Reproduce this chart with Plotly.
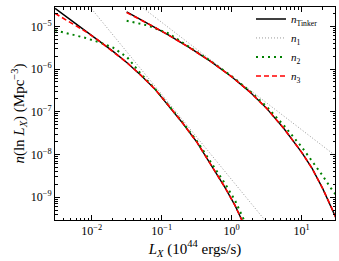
import plotly.graph_objects as go

# ---- data ----
# low-luminosity set
L_a = [0.003, 0.005, 0.008, 0.0125, 0.02, 0.032, 0.05, 0.08, 0.125, 0.2, 0.32, 0.5, 0.8, 1.12, 1.41, 1.6]
tinker_a = [2.63e-5, 1.41e-5, 8.13e-6, 4.68e-6, 2.63e-6, 1.41e-6, 7.24e-7, 3.39e-7, 1.41e-7,
            5.37e-8, 1.91e-8, 6.03e-9, 1.70e-9, 6.31e-10, 2.82e-10, 1.8e-10]
n3_a = [2.0e-5, 1.2e-5, 7.76e-6, 4.68e-6, 2.63e-6, 1.41e-6, 7.24e-7, 3.39e-7, 1.41e-7,
        5.37e-8, 1.91e-8, 6.03e-9, 1.70e-9, 6.31e-10, 2.82e-10, 1.8e-10]
n2_a = [8.1e-6, 6.6e-6, 5.4e-6, 4.3e-6, 3.2e-6, 1.9e-6, 7.9e-7, 3.47e-7, 1.45e-7,
        5.6e-8, 2.04e-8, 6.8e-9, 2.1e-9, 8.3e-10, 3.6e-10, 2.3e-10]
L_n1_a = [0.0025, 3.16]
n1_a = [4.07e-4, 2.57e-10]

# high-luminosity set
L_b = [0.0316, 0.063, 0.126, 0.25, 0.5, 1.0, 1.78, 3.16, 5.6, 10.0, 14.1, 20.0, 26.3, 31.6]
tinker_b = [2.19e-5, 1.17e-5, 6.2e-6, 3.16e-6, 1.51e-6, 6.6e-7, 3.0e-7, 1.2e-7, 4.0e-8,
            1.12e-8, 4.7e-9, 1.58e-9, 6.0e-10, 3.0e-10]
n3_b = [2.1e-5, 1.17e-5, 6.2e-6, 3.16e-6, 1.51e-6, 6.6e-7, 3.0e-7, 1.2e-7, 4.0e-8,
        1.12e-8, 4.7e-9, 1.58e-9, 6.0e-10, 3.0e-10]
n2_b = [1.35e-5, 1.05e-5, 6.8e-6, 3.3e-6, 1.55e-6, 6.8e-7, 3.16e-7, 1.32e-7, 4.7e-8,
        1.5e-8, 7.1e-9, 3.16e-9, 1.6e-9, 1.07e-9]
L_n1_b = [0.0316, 40.0]
n1_b = [5.3e-5, 6.6e-9]

x_tickvals = [0.01, 0.1, 1, 10]
x_ticktext = ["10<sup>−2</sup>", "10<sup>−1</sup>", "10<sup>0</sup>", "10<sup>1</sup>"]
y_tickvals = [1e-9, 1e-8, 1e-7, 1e-6, 1e-5]
y_ticktext = ["10<sup>−9</sup>", "10<sup>−8</sup>", "10<sup>−7</sup>", "10<sup>−6</sup>", "10<sup>−5</sup>"]

FONT = "Liberation Serif"

fig = go.Figure()

def add(x, y, name, color, dash, width, show):
    fig.add_trace(go.Scatter(x=x, y=y, mode="lines", name=name, legendgroup=name,
                             showlegend=show, hoverinfo="skip",
                             line=dict(color=color, dash=dash, width=width)))

add(L_a, tinker_a, "<i>n</i><sub>Tinker</sub>", "black", "solid", 1.4, True)
add(L_n1_a, n1_a, "<i>n</i><sub>1</sub>", "#999999", "1px,2px", 1.0, True)
add(L_a, n2_a, "<i>n</i><sub>2</sub>", "green", "2px,4px", 2.0, True)
add(L_a, n3_a, "<i>n</i><sub>3</sub>", "red", "5px,3px", 1.6, True)
add(L_b, tinker_b, "<i>n</i><sub>Tinker</sub>", "black", "solid", 1.4, False)
add(L_n1_b, n1_b, "<i>n</i><sub>1</sub>", "#999999", "1px,2px", 1.0, False)
add(L_b, n2_b, "<i>n</i><sub>2</sub>", "green", "2px,4px", 2.0, False)
add(L_b, n3_b, "<i>n</i><sub>3</sub>", "red", "5px,3px", 1.6, False)

minor_x = [m * 10 ** e for e in range(-3, 2) for m in range(2, 10)]
minor_y = [m * 10 ** e for e in range(-10, -4) for m in range(2, 10)]

axis_common = dict(showline=True, linecolor="black", linewidth=1, mirror="ticks",
                   ticks="inside", ticklen=5, tickcolor="black", showgrid=False,
                   zeroline=False, automargin=False,
                   tickfont=dict(family=FONT, size=12, color="black"))

fig.update_layout(
    template="none",
    width=339, height=261,
    margin=dict(l=55, r=4, t=5, b=41),
    paper_bgcolor="white", plot_bgcolor="white",
    font=dict(family=FONT, color="black"),
    xaxis=dict(type="log", range=[-2.524, 1.476], tickmode="array",
               tickvals=x_tickvals, ticktext=x_ticktext,
               minor=dict(tickmode="array", tickvals=minor_x, ticks="inside", ticklen=2.5,
                          tickcolor="black", showgrid=False),
               title=dict(text="<i>L<sub>X</sub></i> (10<sup>44</sup> ergs/s)",
                          font=dict(family=FONT, size=15), standoff=0),
               **axis_common),
    yaxis=dict(type="log", range=[-9.535, -4.547], tickmode="array",
               tickvals=y_tickvals, ticktext=y_ticktext,
               minor=dict(tickmode="array", tickvals=minor_y, ticks="inside", ticklen=2.5,
                          tickcolor="black", showgrid=False),
               title=dict(text="<i>n</i>(ln <i>L<sub>X</sub></i>) (Mpc<sup>−3</sup>)",
                          font=dict(family=FONT, size=15), standoff=2),
               **axis_common),
    legend=dict(x=0.70, y=1.012, xanchor="left", yanchor="top",
                bgcolor="rgba(0,0,0,0)", font=dict(family=FONT, size=11),
                tracegroupgap=0, itemwidth=30, borderwidth=0),
    showlegend=True,
)

fig.write_html("out.html", config={"displayModeBar": False},
               post_script="document.body.style.margin='0px';document.body.style.overflow='hidden';")
